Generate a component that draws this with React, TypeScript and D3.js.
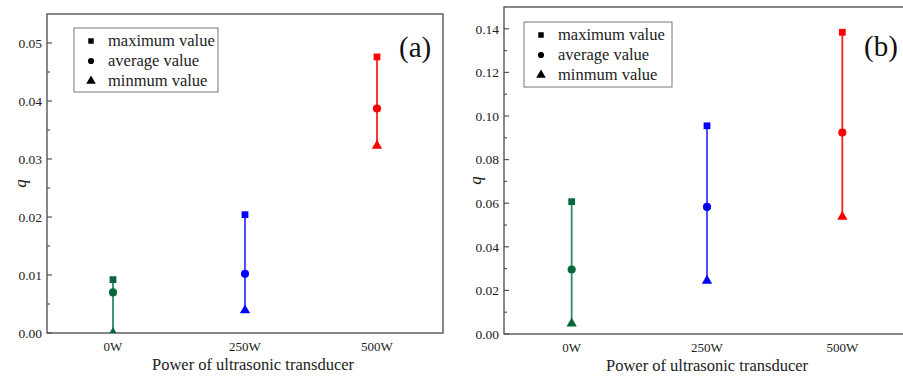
import React, { useEffect, useRef } from "react";
import * as d3 from "d3";

const powers = ["0W", "250W", "500W"];
const lineColors = ["#2a8c6c", "#3a3aff", "#ff2020"];
const markerColors = ["#07683c", "#0000ff", "#ff0000"];

const maxA = [0.0092, 0.0204, 0.0476];
const avgA = [0.0070, 0.0102, 0.0387];
const minA = [0.0, 0.0039, 0.0323];
const ticksA = [0, 0.01, 0.02, 0.03, 0.04, 0.05];

const maxB = [0.0607, 0.0955, 0.1384];
const avgB = [0.0296, 0.0583, 0.0924];
const minB = [0.0048, 0.0244, 0.0538];
const ticksB = [0, 0.02, 0.04, 0.06, 0.08, 0.1, 0.12, 0.14];

const legendItems = ["maximum value", "average value", "minmum value"];

const FONT = "'Liberation Serif', 'Times New Roman', serif";

export default function App() {
    const ref = useRef<SVGSVGElement>(null);

    useEffect(() => {
        document.body.style.margin = "0";
        const svg = d3.select(ref.current);
        svg.selectAll("*").remove();

        const panels = [
            {
                id: "a", label: "(a)", left: 47, right: 443, top: 14, bottom: 333,
                yMax: 0.055, ticks: ticksA, fmt: d3.format(".2f"),
                maxV: maxA, avgV: avgA, minV: minA,
                legend: { x: 74, y: 28, w: 144, h: 64 },
                labelPos: { x: 399, y: 57 }, qX: 20, titleX: 253
            },
            {
                id: "b", label: "(b)", left: 504, right: 910, top: 7, bottom: 334,
                yMax: 0.15, ticks: ticksB, fmt: d3.format(".2f"),
                maxV: maxB, avgV: avgB, minV: minB,
                legend: { x: 524, y: 22, w: 148, h: 65 },
                labelPos: { x: 864, y: 56 }, qX: 475, titleX: 707
            }
        ];

        panels.forEach(p => {
            const x = d3.scaleLinear().domain([-0.5, 2.5]).range([p.left, p.right]);
            const y = d3.scaleLinear().domain([0, p.yMax]).range([p.bottom, p.top]);
            const g = svg.append("g");

            svg.append("defs").append("clipPath").attr("id", `clip-${p.id}`)
                .append("rect")
                .attr("x", p.left).attr("y", p.top)
                .attr("width", p.right - p.left).attr("height", p.bottom - p.top);

            // y ticks (inward) with minor ticks
            const step = p.ticks[1] - p.ticks[0];
            const minor = d3.range(p.ticks.length - 1).map(i => p.ticks[i] + step / 2);
            g.selectAll(".major").data(p.ticks).join("line")
                .attr("x1", p.left).attr("x2", p.left + 5)
                .attr("y1", d => y(d)).attr("y2", d => y(d))
                .attr("stroke", "#555").attr("stroke-width", 1.2);
            g.selectAll(".minor").data(minor).join("line")
                .attr("x1", p.left).attr("x2", p.left + 3)
                .attr("y1", d => y(d)).attr("y2", d => y(d))
                .attr("stroke", "#555").attr("stroke-width", 1.2);
            g.selectAll(".ytl").data(p.ticks).join("text")
                .attr("x", p.left - 5).attr("y", d => y(d)).attr("dy", "0.35em")
                .attr("text-anchor", "end")
                .style("font-family", FONT).style("font-size", "13.5px").attr("fill", "#222")
                .text(d => p.fmt(d));

            // x tick labels
            g.selectAll(".xtl").data(powers).join("text")
                .attr("x", (d, i) => x(i)).attr("y", p.bottom + 18)
                .attr("text-anchor", "middle")
                .style("font-family", FONT).style("font-size", "13px").attr("fill", "#222")
                .text(d => d);

            // frame
            g.append("rect")
                .attr("x", p.left).attr("y", p.top)
                .attr("width", p.right - p.left).attr("height", p.bottom - p.top)
                .attr("fill", "none").attr("stroke", "#555").attr("stroke-width", 1.4);

            // range lines and markers
            const marks = g.append("g").attr("clip-path", `url(#clip-${p.id})`);
            powers.forEach((_, i) => {
                marks.append("line")
                    .attr("x1", x(i)).attr("x2", x(i))
                    .attr("y1", y(p.maxV[i])).attr("y2", y(p.minV[i]))
                    .attr("stroke", lineColors[i]).attr("stroke-width", 1.8);
                marks.append("path")
                    .attr("d", d3.symbol(d3.symbolSquare, 46)())
                    .attr("transform", `translate(${x(i)},${y(p.maxV[i])})`)
                    .attr("fill", markerColors[i]);
                marks.append("path")
                    .attr("d", d3.symbol(d3.symbolCircle, 52)())
                    .attr("transform", `translate(${x(i)},${y(p.avgV[i])})`)
                    .attr("fill", markerColors[i]);
                marks.append("path")
                    .attr("d", d3.symbol(d3.symbolTriangle, 46)())
                    .attr("transform", `translate(${x(i)},${y(p.minV[i])})`)
                    .attr("fill", markerColors[i]);
            });

            // legend
            const lg = g.append("g");
            lg.append("rect")
                .attr("x", p.legend.x).attr("y", p.legend.y)
                .attr("width", p.legend.w).attr("height", p.legend.h)
                .attr("fill", "#fff").attr("stroke", "#777").attr("stroke-width", 1);
            const symbols = [d3.symbolSquare, d3.symbolCircle, d3.symbolTriangle];
            const rowY = (k: number) => p.legend.y + 13 + k * 20;
            legendItems.forEach((txt, k) => {
                lg.append("path")
                    .attr("d", d3.symbol(symbols[k], k === 2 ? 40 : 30)())
                    .attr("transform", `translate(${p.legend.x + 17},${rowY(k)})`)
                    .attr("fill", "#000");
                lg.append("text")
                    .attr("x", p.legend.x + 34).attr("y", rowY(k)).attr("dy", "0.33em")
                    .style("font-family", FONT).style("font-size", "16.5px").attr("fill", "#222")
                    .text(txt);
            });

            // panel label
            g.append("text")
                .attr("x", p.labelPos.x).attr("y", p.labelPos.y)
                .style("font-family", FONT).style("font-size", "29px").attr("fill", "#111")
                .text(p.label);

            // axis titles
            g.append("text")
                .attr("x", p.titleX).attr("y", p.bottom + 37)
                .attr("text-anchor", "middle")
                .style("font-family", FONT).style("font-size", "16.5px").attr("fill", "#222")
                .text("Power of ultrasonic transducer");
            g.append("text")
                .attr("transform", `translate(${p.qX},${(p.top + p.bottom) / 2 + 10}) rotate(-90)`)
                .attr("text-anchor", "middle").attr("dy", "0.35em")
                .style("font-family", FONT).style("font-size", "17px").style("font-style", "italic")
                .attr("fill", "#222")
                .text("q");
        });
    }, []);

    return <svg ref={ref} width={903} height={379} style={{ display: "block", background: "#fff" }}></svg>;
}
